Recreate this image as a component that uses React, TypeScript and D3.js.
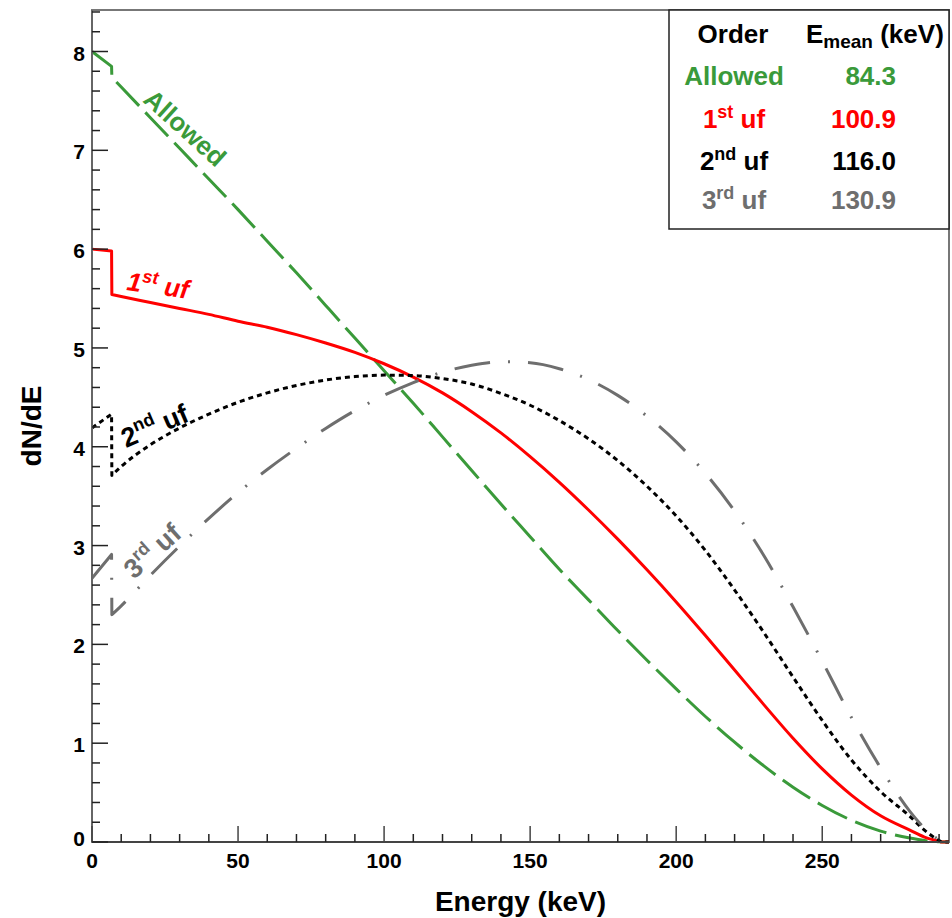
import React from "react";
import * as d3 from "d3";

// Energy grid (keV) for the smooth part of the spectra
const energies = [
  10, 20, 30, 40, 50, 60, 70, 80, 90, 100, 110, 120, 130, 140, 150, 160, 170,
  180, 190, 200, 210, 220, 230, 240, 250, 260, 270, 280, 285, 290, 291, 293.4,
];

// first-bin segment (0 keV -> step at ~6.8 keV)
const headEnergies = [0, 6.7, 6.8];

const allowedHead = [8.0, 7.85, 7.74];
const allowedValues = [
  7.64, 7.33, 7.02, 6.71, 6.4, 6.08, 5.76, 5.43, 5.1, 4.77, 4.44, 4.1, 3.76,
  3.42, 3.09, 2.76, 2.45, 2.14, 1.84, 1.55, 1.27, 1.01, 0.77, 0.555, 0.37, 0.22,
  0.11, 0.04, 0.015, 0.002, 0, 0,
];

const firstHead = [6.0, 5.98, 5.54];
const firstValues = [
  5.52, 5.46, 5.4, 5.34, 5.27, 5.21, 5.135, 5.05, 4.955, 4.84, 4.705, 4.545,
  4.355, 4.14, 3.9, 3.64, 3.36, 3.065, 2.755, 2.43, 2.09, 1.74, 1.39, 1.05,
  0.74, 0.475, 0.265, 0.12, 0.05, 0.008, 0, 0,
];

const secondHead = [4.19, 4.33, 3.71];
const secondValues = [
  3.8, 4.02, 4.19, 4.33, 4.45, 4.545, 4.62, 4.675, 4.71, 4.725, 4.72, 4.69,
  4.635, 4.54, 4.42, 4.265, 4.08, 3.86, 3.6, 3.3, 2.95, 2.55, 2.12, 1.67, 1.23,
  0.83, 0.51, 0.26, 0.12, 0.015, 0, 0,
];

const thirdHead = [2.67, 2.91, 2.3];
const thirdValues = [
  2.39, 2.7, 2.995, 3.275, 3.535, 3.77, 3.985, 4.185, 4.365, 4.52, 4.65, 4.755,
  4.825, 4.86, 4.85, 4.79, 4.68, 4.52, 4.31, 4.05, 3.73, 3.35, 2.9, 2.38, 1.83,
  1.26, 0.75, 0.31, 0.14, 0.02, 0, 0,
];

const xMajorTicks = [0, 50, 100, 150, 200, 250];
const yMajorTicks = [0, 1, 2, 3, 4, 5, 6, 7, 8];

const legendOrders = ["Allowed", "1", "2", "3"];
const legendSup = ["", "st", "nd", "rd"];
const legendMeans = ["84.3", "100.9", "116.0", "130.9"];

const GREEN = "#3a9a3a";
const RED = "#ff0000";
const BLACK = "#000000";
const GRAY = "#6e6e6e";
const FONT = "'Liberation Sans', Arial, Helvetica, sans-serif";

const W = 952;
const H = 918;
const left = 92;
const right = 949;
const top = 10;
const bottom = 842;

const App: React.FC = () => {
  const x = d3.scaleLinear().domain([0, 293.4]).range([left, right]);
  const y = d3.scaleLinear().domain([0, 8.42]).range([bottom, top]);

  const headLine = d3
    .line<[number, number]>()
    .x((d) => x(d[0]))
    .y((d) => y(d[1]));

  const smoothLine = d3
    .line<[number, number]>()
    .x((d) => x(d[0]))
    .y((d) => y(d[1]))
    .curve(d3.curveMonotoneX);

  // straight first-bin step, then the smooth spectrum
  const build = (head: number[], vals: number[]) => {
    const h = head.map((v, i) => [headEnergies[i], v] as [number, number]);
    const t = vals.map((v, i) => [energies[i], v] as [number, number]);
    const hd = headLine(h) || "";
    const td = (smoothLine([h[h.length - 1], ...t]) || "").replace(/^M[^LC]*/, "");
    return hd + td;
  };

  const series = [
    { d: build(allowedHead, allowedValues), color: GREEN, dash: "33 9" },
    { d: build(firstHead, firstValues), color: RED, dash: "" },
    { d: build(secondHead, secondValues), color: BLACK, dash: "5 4" },
    { d: build(thirdHead, thirdValues), color: GRAY, dash: "36 18 2 18" },
  ];

  const xMinor = d3.range(0, 291, 10).filter((v) => v % 50 !== 0);
  const yMinor = d3
    .range(1, 43)
    .map((i) => i * 0.2)
    .filter((v) => Math.abs(v - Math.round(v)) > 0.01);

  const legendColors = [GREEN, RED, BLACK, GRAY];
  const rowBase = [85, 128, 170, 209];

  return (
    <svg
      width={W}
      height={H}
      style={{ position: "absolute", left: 0, top: 0, background: "#fff" }}
      fontFamily={FONT}
    >
      {/* frame */}
      <rect
        x={left}
        y={top}
        width={right - left}
        height={bottom - top}
        fill="none"
        stroke="#777"
        strokeWidth={2}
      />

      {/* curves */}
      {series.map((s, i) => (
        <path
          key={i}
          d={s.d}
          fill="none"
          stroke={s.color}
          strokeWidth={3}
          strokeDasharray={s.dash || undefined}
          strokeLinejoin="round"
        />
      ))}

      {/* axes */}
      <line x1={left} x2={right} y1={bottom} y2={bottom} stroke="#444" strokeWidth={2} />
      <line x1={left} x2={left} y1={top} y2={bottom} stroke="#666" strokeWidth={2} />

      {xMajorTicks.map((t) => (
        <g key={"xm" + t}>
          <line x1={x(t)} x2={x(t)} y1={bottom} y2={bottom - 16} stroke="#444" strokeWidth={1.5} />
          <text x={x(t)} y={868} textAnchor="middle" fontSize={21} fontWeight="bold">
            {t}
          </text>
        </g>
      ))}
      {xMinor.map((t) => (
        <line key={"xn" + t} x1={x(t)} x2={x(t)} y1={bottom} y2={bottom - 8} stroke="#222" strokeWidth={1.5} />
      ))}

      {yMajorTicks.map((t) => (
        <g key={"ym" + t}>
          <line x1={left} x2={left + 16} y1={y(t)} y2={y(t)} stroke="#222" strokeWidth={1.5} />
          <text
            x={85}
            y={y(t) + (t === 0 ? 4 : 9)}
            textAnchor="end"
            fontSize={21}
            fontWeight="bold"
          >
            {t}
          </text>
        </g>
      ))}
      {yMinor.map((t) => (
        <line key={"yn" + t} x1={left} x2={left + 8} y1={y(t)} y2={y(t)} stroke="#222" strokeWidth={1.5} />
      ))}

      {/* axis titles */}
      <text x={(left + right) / 2} y={911} textAnchor="middle" fontSize={28} fontWeight="bold">
        Energy (keV)
      </text>
      <text
        transform={`translate(41, ${(top + bottom) / 2}) rotate(-90)`}
        textAnchor="middle"
        fontSize={28}
        fontWeight="bold"
      >
        dN/dE
      </text>

      {/* curve labels */}
      <text
        transform="translate(185, 128) rotate(42)"
        textAnchor="middle"
        dominantBaseline="central"
        fontSize={26}
        fontWeight="bold"
        fill={GREEN}
      >
        Allowed
      </text>
      <text
        transform="translate(126, 290) rotate(8)"
        fontSize={26}
        fontWeight="bold"
        fontStyle="italic"
        fill={RED}
      >
        <tspan>1</tspan>
        <tspan dy={-10} fontSize={18}>st</tspan>
        <tspan dy={10}> uf</tspan>
      </text>
      <text
        transform="translate(126, 448) rotate(-23)"
        fontSize={27}
        fontWeight="bold"
        fill={BLACK}
      >
        <tspan>2</tspan>
        <tspan dy={-11} fontSize={18}>nd</tspan>
        <tspan dy={11}> uf</tspan>
      </text>
      <text
        transform="translate(134, 580) rotate(-42)"
        fontSize={27}
        fontWeight="bold"
        fill={GRAY}
      >
        <tspan>3</tspan>
        <tspan dy={-11} fontSize={18}>rd</tspan>
        <tspan dy={11}> uf</tspan>
      </text>

      {/* legend table */}
      <rect x={669} y={top} width={right - 669} height={229 - top} fill="#fff" stroke="#222" strokeWidth={1.5} />
      <text x={733} y={43} textAnchor="middle" fontSize={26} fontWeight="bold">
        Order
      </text>
      <text x={806} y={43} fontSize={26} fontWeight="bold">
        <tspan>E</tspan>
        <tspan dy={5} fontSize={19}>mean</tspan>
        <tspan dy={-5}> (keV)</tspan>
      </text>
      {legendOrders.map((o, i) => (
        <g key={o} fill={legendColors[i]} fontSize={26} fontWeight="bold">
          <text x={734} y={rowBase[i]} textAnchor="middle">
            {legendSup[i] ? (
              <>
                <tspan>{o}</tspan>
                <tspan dy={-10} fontSize={18}>{legendSup[i]}</tspan>
                <tspan dy={10}> uf</tspan>
              </>
            ) : (
              o
            )}
          </text>
          <text x={896} y={rowBase[i]} textAnchor="end">
            {legendMeans[i]}
          </text>
        </g>
      ))}
    </svg>
  );
};

export default App;
